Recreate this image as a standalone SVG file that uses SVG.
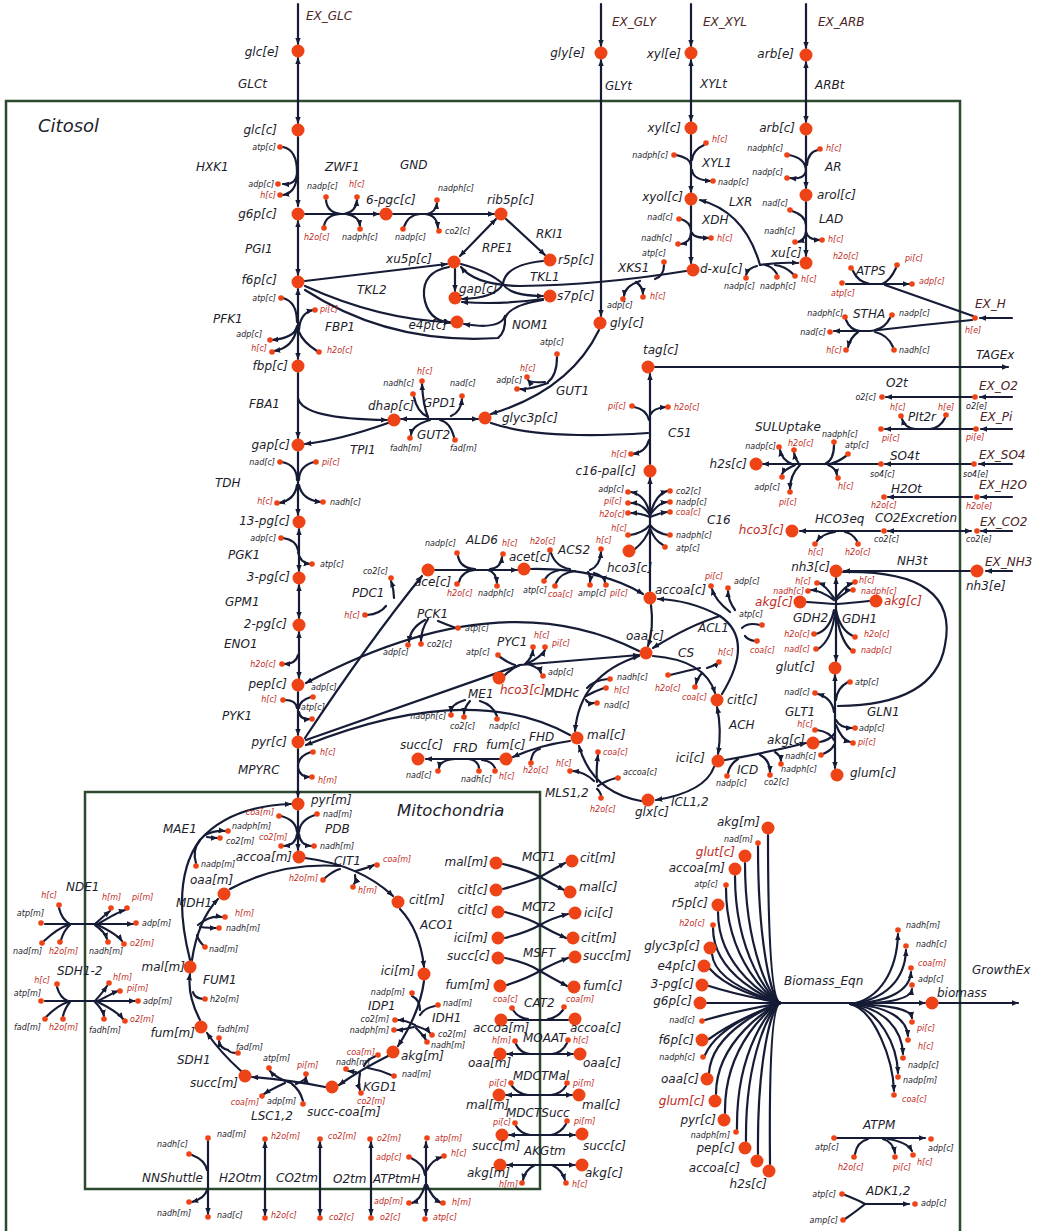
<svg xmlns="http://www.w3.org/2000/svg" width="1043" height="1231" viewBox="0 0 1043 1231">
<defs>
<marker id="ar" viewBox="0 0 10 10" refX="9" refY="5" markerWidth="7" markerHeight="7" orient="auto-start-reverse" markerUnits="userSpaceOnUse"><path d="M0,1 L10,5 L0,9 z" fill="#161c36"/></marker>
<style>
.k path{fill:none;stroke:#161c36;stroke-width:2.2;stroke-linecap:round}
.k path.a{marker-end:url(#ar)}
.k path.ab{marker-start:url(#ar);marker-end:url(#ar)}
circle.b{r:6.5px;fill:#ee4316}
circle.d{r:2.8px;fill:#ee4316}
text{font-family:"DejaVu Sans",Verdana,sans-serif;font-style:italic}
.n{font-size:12px;fill:#1d1d2b}
.nr{font-size:12px;fill:#c02a1c}
.s{font-size:8px;fill:#1d1d2b}
.sr{font-size:8px;fill:#c02a1c}
.x{font-size:12px;fill:#4b2424}
.e{text-anchor:end}
.box{fill:none;stroke:#2e4a2e;stroke-width:2.5}
</style>
</defs>
<rect width="1043" height="1231" fill="#ffffff"/>
<g id="compartments">
<rect class="box" x="6" y="101" width="954" height="1150"/>
<rect class="box" x="85" y="792" width="455" height="397"/>
<text x="38" y="132" style="font-size:18px;fill:#1d1d2b">Citosol</text>
<text x="397" y="816" style="font-size:16.5px;fill:#1d1d2b">Mitochondria</text>
</g>
<g id="connectors" class="k">
<path class="a" d="M298,4V44"/><path class="ab" d="M298,58V123"/><path class="a" d="M298,137V206"/><path class="ab" d="M298,221V275"/><path class="ab" d="M298,289V359"/><path class="a" d="M298,373V438"/><path class="a" d="M298,452V515"/><path class="ab" d="M299,529V571"/><path class="ab" d="M299,585V618"/><path class="ab" d="M299,632V678"/><path class="a" d="M298,692V735"/><path class="a" d="M298,749V797"/><path class="a" d="M298,811V850"/>
<path d="M283,147Q297,150 297,172"/><path class="a" d="M297,172Q297,185 283,184"/><path class="a" d="M297,175Q296,193 283,195"/>
<path class="a" d="M305,214H379"/><path d="M326,200Q327,213 342,214"/><path d="M324,226Q326,215 340,214"/><path class="a" d="M344,214Q356,212 357,200"/><path class="a" d="M346,214Q359,216 360,226"/>
<path class="a" d="M393,214H494"/><path d="M404,227Q408,215 420,214"/><path class="a" d="M425,214Q437,215 438,228"/><path class="a" d="M427,214Q436,212 437,203"/>
<path class="ab" d="M496,219L460,256"/><path class="a" d="M506,219L545,255"/>
<path class="a" d="M305,281L447,264"/><path class="a" d="M305,286Q380,320 450,322"/>
<path class="a" d="M455,269V291"/>
<path d="M461,264Q490,272 503,284"/><path d="M543,261Q505,265 503,284"/><path class="a" d="M503,284Q495,298 462,299"/><path class="a" d="M503,284Q510,296 543,296"/>
<path class="a" d="M686,271Q600,285 520,286Q475,285 461,267"/>
<path d="M664,265Q664,276 655,279"/><path class="a" d="M640,281Q625,286 624,296"/><path class="a" d="M636,282Q643,287 643,294"/>
<path class="a" d="M543,299Q500,305 462,302"/><path class="a" d="M449,267Q422,272 424,296Q427,320 450,323"/>
<path d="M543,300Q510,305 505,318"/><path class="a" d="M505,316Q500,330 464,324"/><path d="M305,290Q390,345 498,338Q506,332 505,316"/>
<path d="M283,298Q297,302 297,322"/><path class="a" d="M297,326Q295,338 272,340"/><path class="a" d="M297,328Q293,348 274,351"/><path class="a" d="M299,330Q300,313 313,310"/><path d="M317,351Q303,342 299,332"/>
<path class="a" d="M298,398Q302,419 387,420"/><path class="a" d="M388,423Q340,440 305,444"/>
<path d="M282,462Q297,465 297,480"/><path d="M314,462Q299,466 299,480"/><path class="a" d="M297,485Q295,500 279,503"/><path class="a" d="M299,485Q302,500 321,502"/>
<path d="M283,538Q296,540 298,550"/><path class="a" d="M298,552Q300,563 310,564"/>
<path class="a" d="M298,655Q296,664 284,664"/>
<path d="M285,700Q296,700 297,708"/><path d="M311,697Q300,700 299,708"/><path class="a" d="M299,712Q300,720 310,719"/>
<path d="M311,752Q298,756 298,766"/><path class="a" d="M298,768Q300,777 310,777"/>
<path class="ab" d="M401,419H478"/><path d="M414,397Q417,412 428,417"/><path class="a" d="M428,417Q423,405 422,384"/><path class="a" d="M451,416Q461,412 462,399"/><path d="M454,437Q450,422 440,420"/><path class="a" d="M430,420Q412,425 411,435"/>
<path class="a" d="M599,330Q570,390 491,414"/><path d="M557,357Q557,375 548,382"/><path class="a" d="M548,383Q528,390 520,389"/><path class="a" d="M545,382Q530,383 528,380"/>
<path class="a" d="M601,4V46"/><path class="ab" d="M601,60V316"/>
<path d="M491,423Q540,440 648,433"/><path class="a" d="M650,464V374"/><path d="M634,407Q646,409 649,420"/><path class="a" d="M650,415Q653,408 666,407"/><path class="a" d="M649,440Q646,452 633,454"/>
<path class="a" d="M655,367H1008"/>
<path class="a" d="M650,591V478"/>
<path class="a" d="M650,515Q646,495 631,492"/><path class="a" d="M650,515Q642,503 631,503"/><path class="a" d="M650,517Q640,513 631,513"/><path class="a" d="M650,515Q655,495 667,491"/><path class="a" d="M650,515Q658,503 667,502"/><path class="a" d="M650,517Q660,513 667,512"/>
<path d="M630,535Q643,533 650,525"/><path d="M635,549Q646,540 650,528"/><path d="M668,535Q656,533 650,525"/><path d="M663,545Q654,540 650,528"/>
<path class="a" d="M435,570H517"/><path d="M458,556Q460,568 475,569"/><path d="M459,582Q462,571 475,570"/><path class="a" d="M490,569Q501,568 502,557"/><path class="a" d="M488,570Q496,572 497,583"/>
<path class="a" d="M531,569Q600,568 643,594"/><path d="M551,553Q556,567 570,569"/><path d="M545,579Q549,572 560,570"/><path d="M556,583Q560,573 575,571"/><path class="a" d="M590,570Q600,566 601,552"/><path class="a" d="M588,572Q591,576 590,582"/><path class="a" d="M594,573Q604,576 605,582"/>
<path class="a" d="M305,738Q370,640 422,576"/><path class="a" d="M394,598Q394,590 391,581"/><path d="M367,615Q380,614 386,606"/>
<path class="a" d="M639,651Q500,580 306,683"/><path d="M456,628Q445,624 438,621"/><path class="a" d="M425,620Q410,628 409,642"/><path class="a" d="M428,619Q421,630 421,641"/>
<path class="a" d="M306,740L520,665L639,655"/><path d="M500,657Q510,664 515,665"/><path d="M505,675Q512,668 520,665"/><path class="a" d="M525,664Q532,658 533,650"/><path class="a" d="M527,664Q542,656 545,650"/><path class="a" d="M528,664Q540,668 541,673"/>
<path class="a" d="M570,735Q470,680 306,745"/><path d="M497,716Q493,705 480,701"/><path class="a" d="M465,700Q451,704 451,712"/><path class="a" d="M470,701Q464,708 464,714"/>
<path class="ab" d="M575,731Q580,675 639,656"/><path d="M608,679Q594,680 587,688"/><path d="M604,688Q595,691 586,696"/><path class="a" d="M586,700Q588,704 594,703"/>
<path class="a" d="M570,741Q540,745 513,757"/><path d="M531,760Q533,750 540,749"/>
<path class="a" d="M499,759H426"/><path d="M479,768Q478,760 468,759"/><path d="M495,768Q492,761 482,760"/><path class="a" d="M455,759Q440,760 439,768"/>
<path class="a" d="M641,801Q592,792 579,746"/><path d="M616,778Q605,781 598,786"/><path d="M601,795Q599,790 597,789"/><path class="a" d="M597,782Q596,770 598,755"/><path class="a" d="M594,781Q585,772 573,771"/>
<path class="a" d="M714,767Q705,792 656,800"/>
<path class="a" d="M653,656Q705,660 715,693"/><path d="M670,675Q690,670 700,668"/><path class="a" d="M707,668Q716,665 719,662"/><path class="a" d="M702,673Q697,679 696,684"/>
<path class="a" d="M722,694Q755,640 720,616Q690,600 658,599"/><path class="a" d="M720,616Q690,625 653,648"/><path d="M760,625Q748,622 742,628"/><path d="M755,641Q748,640 745,636"/><path class="a" d="M735,610Q728,600 728,591"/><path class="a" d="M730,612Q715,600 712,589"/>
<path class="a" d="M651,605Q654,628 648,646"/>
<path class="ab" d="M717,707Q722,730 718,754"/>
<path class="a" d="M725,760Q770,752 806,743"/><path d="M728,773Q730,764 738,759"/><path class="a" d="M760,755Q770,760 770,772"/><path class="a" d="M775,752Q781,756 781,761"/>
<path class="ab" d="M835,675V768"/>
<path class="a" d="M834,712Q832,698 818,694"/><path d="M817,730Q830,732 834,740"/><path d="M820,742Q830,740 835,733"/><path d="M823,754Q832,750 834,745"/>
<path d="M848,682Q837,688 836,700"/><path class="a" d="M836,720Q840,728 852,728"/><path class="a" d="M836,725Q842,740 850,742"/>
<path d="M843,572Q960,570 945,645Q935,705 838,706"/>
<path class="ab" d="M836,578V661"/>
<path class="a" d="M834,598Q825,585 819,583"/><path class="a" d="M834,600Q820,590 811,590"/><path d="M807,602Q822,603 834,604"/><path d="M834,610Q830,630 816,634"/><path d="M835,612Q832,640 818,649"/>
<path class="a" d="M836,598Q846,585 853,583"/><path class="a" d="M836,600Q848,590 851,590"/><path d="M869,601Q850,603 837,604"/><path d="M836,610Q840,630 853,636"/><path d="M836,612Q840,640 851,650"/>
<path class="a" d="M970,571H844"/><path class="a" d="M1012,571H986"/>
<path class="a" d="M972,397H886"/><path class="a" d="M1012,397H980"/>
<path class="a" d="M973,429H885"/><path d="M945,418Q940,428 930,429"/><path class="a" d="M915,429Q905,428 902,419"/><path class="a" d="M1012,429H981"/>
<path class="a" d="M971,464H885"/><path class="a" d="M1012,464H979"/>
<path class="a" d="M878,464H763"/><path d="M834,445Q834,460 825,464"/><path d="M846,456Q838,462 830,464"/><path class="a" d="M828,465Q836,468 837,475"/><path class="a" d="M792,464Q782,460 780,450"/><path class="a" d="M799,464Q795,458 794,453"/><path class="a" d="M795,465Q784,470 782,474"/><path class="a" d="M800,465Q790,475 790,489"/>
<path class="a" d="M972,497H888"/><path class="a" d="M1012,497H981"/>
<path class="ab" d="M888,531H971"/><path class="a" d="M1012,531H981"/>
<path class="a" d="M880,531H800"/><path class="a" d="M835,532Q822,534 817,541"/><path d="M857,541Q852,533 845,532"/>
<path d="M973,316L885,285"/><path class="a" d="M846,284H909"/><path d="M853,271Q858,282 870,284"/><path d="M896,268Q890,281 882,284"/>
<path class="a" d="M972,320Q920,325 870,331H834"/><path d="M846,320Q850,330 860,331"/><path d="M890,318Q885,328 875,330"/><path class="a" d="M858,332Q850,338 848,347"/><path d="M893,347Q888,335 875,332"/>
<path class="a" d="M1012,318H980"/>
<path class="a" d="M691,4V46"/><path class="ab" d="M691,60V121"/><path class="a" d="M806,4V48"/><path class="ab" d="M806,62V122"/>
<path class="a" d="M691,135V192"/><path d="M704,145Q693,150 692,160"/><path d="M676,155Q690,158 691,165"/><path class="a" d="M692,170Q693,180 711,181"/>
<path class="a" d="M691,206V263"/><path d="M681,219Q690,222 691,230"/><path class="a" d="M691,233Q690,243 681,244"/><path class="a" d="M692,233Q694,238 709,238"/>
<path class="a" d="M760,265Q745,212 700,200"/><path class="a" d="M760,265Q780,262 798,263"/><path class="a" d="M757,266Q748,268 746,275"/><path d="M777,274Q772,266 765,265"/><path d="M793,274Q785,266 775,265"/>
<path class="a" d="M806,136V188"/><path d="M818,150Q808,152 807,165"/><path d="M789,155Q805,158 806,170"/><path class="a" d="M806,170Q805,180 790,178"/>
<path class="a" d="M806,202V256"/><path d="M792,211Q805,215 806,225"/><path class="a" d="M806,232Q805,240 798,242"/><path class="a" d="M806,232Q808,240 820,240"/>
<path d="M281,816Q296,820 297,832"/><path d="M315,815Q300,820 299,832"/><path class="a" d="M297,834Q296,845 284,846"/><path class="a" d="M299,834Q300,845 311,846"/>
<path class="a" d="M190,960Q170,880 200,840Q230,806 291,804"/><path class="a" d="M205,835Q215,830 225,831"/><path class="a" d="M207,837Q213,838 217,838"/><path d="M196,863Q192,850 200,840"/>
<path class="a" d="M305,858Q360,865 393,896"/><path d="M230,889Q280,862 340,866"/><path d="M325,878Q333,871 340,869"/><path class="a" d="M356,871Q370,867 374,865"/><path class="a" d="M355,875Q356,882 354,884"/>
<path class="a" d="M400,909Q420,930 424,967"/>
<path class="a" d="M424,981Q420,1012 398,1046"/><path d="M412,996Q420,1000 420,1010"/><path d="M435,1006Q424,1008 420,1015"/><path class="a" d="M415,1025Q405,1020 398,1020"/><path class="a" d="M414,1027Q402,1030 397,1030"/><path class="a" d="M416,1026Q428,1030 430,1033"/><path class="a" d="M416,1028Q424,1036 426,1040"/>
<path class="a" d="M388,1056Q360,1070 339,1085"/><path d="M376,1056Q366,1060 364,1066"/><path d="M391,1075Q380,1070 368,1068"/><path class="a" d="M356,1072Q348,1071 348,1071"/><path class="a" d="M360,1073Q358,1085 360,1090"/>
<path class="a" d="M325,1087Q290,1080 252,1077"/><path class="a" d="M291,1083Q276,1078 270,1071"/><path class="a" d="M296,1084Q306,1080 306,1077"/><path class="a" d="M285,1083Q270,1090 264,1094"/><path d="M303,1101Q300,1090 292,1084"/>
<path class="a" d="M241,1071Q220,1052 207,1033"/><path class="a" d="M228,1050Q220,1048 219,1041"/><path d="M236,1053Q230,1053 228,1050"/>
<path class="a" d="M200,1020Q187,995 190,974"/><path d="M203,999Q194,998 193,992"/>
<path class="a" d="M192,960Q198,920 218,899"/><path class="a" d="M198,925Q210,915 222,917"/><path class="a" d="M200,927Q210,928 216,928"/><path d="M203,945Q198,940 197,935"/>
<path class="a" d="M45,924H133"/><path d="M59,908Q62,920 70,924"/><path d="M44,941Q58,928 68,925"/><path d="M61,940Q64,930 70,925"/><path class="a" d="M95,924Q105,915 110,911"/><path class="a" d="M98,924Q118,912 125,910"/><path class="a" d="M95,925Q105,932 107,939"/><path class="a" d="M98,925Q118,935 122,941"/>
<path class="a" d="M45,1001H135"/><path d="M57,987Q60,998 68,1001"/><path d="M46,1017Q58,1005 68,1002"/><path d="M63,1016Q65,1008 70,1002"/><path class="a" d="M95,1001Q103,992 107,986"/><path class="a" d="M98,1001Q115,992 118,991"/><path class="a" d="M95,1002Q103,1010 104,1016"/><path class="a" d="M98,1002Q118,1012 123,1019"/>
<path class="a" d="M208,1141V1214"/><path d="M192,1155Q205,1160 207,1170"/><path class="a" d="M207,1190Q205,1198 192,1202"/>
<path class="ab" d="M265,1142V1215"/><path class="ab" d="M320,1142V1215"/><path class="ab" d="M371,1142V1215"/><path class="ab" d="M426,1142V1215"/>
<path d="M411,1158Q424,1164 425,1175"/><path class="a" d="M427,1170Q432,1160 442,1157"/><path class="a" d="M425,1185Q421,1200 412,1203"/><path class="a" d="M427,1185Q432,1198 441,1203"/>
<path d="M503,864Q528,870 540,877"/><path d="M503,889Q528,882 540,877"/><path class="a" d="M540,877Q552,870 565,863"/><path class="a" d="M540,877Q552,884 564,890"/>
<path d="M505,912Q528,918 540,925"/><path d="M505,938Q528,932 540,925"/><path class="a" d="M540,925Q552,918 568,914"/><path class="a" d="M540,925Q552,932 566,938"/>
<path d="M505,958Q528,963 540,971"/><path d="M507,985Q528,978 540,971"/><path class="a" d="M540,971Q552,964 568,958"/><path class="a" d="M540,971Q552,978 567,986"/>
<path d="M508,1020H568"/><path d="M513,1010Q518,1018 528,1019"/><path d="M563,1010Q557,1018 548,1019"/>
<path class="ab" d="M507,1054H573"/><path d="M516,1044Q520,1053 530,1054"/><path d="M567,1043Q562,1053 552,1054"/>
<path class="ab" d="M506,1095H572"/><path d="M512,1086Q518,1094 528,1095"/><path d="M566,1086Q561,1094 551,1095"/>
<path class="ab" d="M509,1135H575"/><path d="M516,1126Q520,1133 530,1135"/><path d="M566,1124Q561,1133 551,1135"/>
<path class="ab" d="M507,1165H575"/><path class="a" d="M535,1165Q525,1170 523,1180"/><path class="a" d="M552,1165Q562,1170 565,1180"/>
<path d="M768,835C768,942 772,1000 780,1003"/><path d="M758,846C758,947 772,1000 780,1003"/><path d="M745,863C745,951 772,1000 780,1003"/><path d="M735,876C735,956 772,1000 780,1003"/><path d="M726,888C726,962 772,1000 780,1003"/><path d="M718,912C718,969 772,1000 780,1003"/><path d="M713,928C713,976 772,1000 780,1003"/><path d="M712,954C715,985 772,1000 780,1003"/><path d="M710,969C730,992 772,1000 780,1003"/><path d="M709,986C740,996 772,1001 780,1003"/><path d="M707,1003H780"/>
<path d="M705,1020C740,1010 772,1005 780,1003"/><path d="M709,1039C735,1020 772,1006 780,1003"/><path d="M705,1055C718,1025 772,1006 780,1003"/><path d="M709,1073C712,1030 772,1006 780,1003"/><path d="M716,1094C716,1040 772,1006 780,1003"/><path d="M725,1113C724,1044 772,1006 780,1003"/><path d="M737,1129C736,1048 772,1006 780,1003"/><path d="M746,1141C745,1054 772,1006 780,1003"/><path d="M758,1154C757,1058 772,1006 780,1003"/><path d="M770,1164C769,1062 772,1006 780,1003"/>
<path class="a" d="M780,1003H925"/>
<path class="a" d="M850,1004C880,1000 897,970 898,934"/><path class="a" d="M850,1004C885,1000 905,980 906,950"/><path class="a" d="M850,1004C890,1002 910,990 911,972"/><path class="a" d="M850,1004C895,1003 911,998 912,989"/><path class="a" d="M850,1004C895,1005 911,1010 912,1018"/><path class="a" d="M850,1004C890,1006 907,1020 908,1036"/><path class="a" d="M850,1004C885,1008 902,1030 903,1054"/><path class="a" d="M850,1004C880,1010 897,1045 898,1073"/><path class="a" d="M850,1004C875,1010 893,1060 894,1091"/>
<path class="a" d="M939,1003H1018"/>
<path class="a" d="M837,1138H925"/><path d="M855,1154Q857,1142 868,1139"/><path class="a" d="M883,1139Q893,1142 895,1153"/><path class="a" d="M888,1139Q907,1142 912,1151"/>
<path d="M845,1195Q858,1200 865,1204"/><path d="M845,1219Q858,1210 865,1204"/><path class="a" d="M865,1204H909"/>
</g>
<g id="reaction-labels">
<text class="x" x="306" y="20">EX_GLC</text><text class="x" x="612" y="26">EX_GLY</text><text class="x" x="703" y="26">EX_XYL</text><text class="x" x="818" y="26">EX_ARB</text><text class="x" x="975" y="308">EX_H</text><text class="x" x="979" y="390">EX_O2</text><text class="x" x="980" y="421">EX_Pi</text><text class="x" x="979" y="459">EX_SO4</text><text class="x" x="979" y="489">EX_H2O</text><text class="x" x="980" y="526">EX_CO2</text><text class="x" x="985" y="566">EX_NH3</text>
<text class="n" x="238" y="88">GLCt</text><text class="n" x="196" y="171">HXK1</text><text class="n" x="325" y="171">ZWF1</text><text class="n" x="400" y="169">GND</text><text class="n" x="536" y="238">RKI1</text><text class="n" x="482" y="252">RPE1</text><text class="n" x="530" y="281">TKL1</text><text class="n" x="357" y="294">TKL2</text><text class="n" x="245" y="253">PGI1</text><text class="n" x="618" y="272">XKS1</text><text class="n" x="605" y="90">GLYt</text><text class="n" x="700" y="88">XYLt</text><text class="n" x="815" y="89">ARBt</text><text class="n" x="702" y="167">XYL1</text><text class="n" x="825" y="171">AR</text><text class="n" x="729" y="206">LXR</text><text class="n" x="702" y="224">XDH</text><text class="n" x="819" y="223">LAD</text><text class="n" x="856" y="275">ATPS</text><text class="n" x="853" y="318">STHA</text><text class="n" x="976" y="359">TAGEx</text><text class="n" x="886" y="387">O2t</text><text class="n" x="908" y="421">PIt2r</text><text class="n" x="755" y="431">SULUptake</text><text class="n" x="890" y="460">SO4t</text><text class="n" x="891" y="493">H2Ot</text><text class="n" x="815" y="523">HCO3eq</text><text class="n" x="875" y="522">CO2Excretion</text><text class="n" x="897" y="565">NH3t</text><text class="n" x="793" y="622">GDH2</text><text class="n" x="842" y="623">GDH1</text><text class="n" x="785" y="716">GLT1</text><text class="n" x="867" y="716">GLN1</text><text class="n" x="737" y="774">ICD</text><text class="n" x="698" y="632">ACL1</text><text class="n" x="678" y="657">CS</text><text class="n" x="729" y="729">ACH</text><text class="n" x="671" y="806">ICL1,2</text><text class="n" x="668" y="437">C51</text><text class="n" x="707" y="524">C16</text><text class="n" x="423" y="407">GPD1</text><text class="n" x="417" y="439">GUT2</text><text class="n" x="556" y="395">GUT1</text><text class="n" x="512" y="329">NOM1</text><text class="n" x="350" y="454">TPI1</text><text class="n" x="325" y="331">FBP1</text><text class="n" x="213" y="323">PFK1</text><text class="n" x="249" y="408">FBA1</text><text class="n" x="215" y="487">TDH</text><text class="n" x="228" y="559">PGK1</text><text class="n" x="225" y="606">GPM1</text><text class="n" x="224" y="648">ENO1</text><text class="n" x="222" y="720">PYK1</text><text class="n" x="238" y="774">MPYRC</text><text class="n" x="466" y="544">ALD6</text><text class="n" x="558" y="554">ACS2</text><text class="n" x="352" y="597">PDC1</text><text class="n" x="417" y="618">PCK1</text><text class="n" x="497" y="646">PYC1</text><text class="n" x="544" y="697">MDHc</text><text class="n" x="468" y="698">ME1</text><text class="n" x="529" y="741">FHD</text><text class="n" x="453" y="752">FRD</text><text class="n" x="545" y="797">MLS1,2</text>
<text class="n" x="163" y="833">MAE1</text><text class="n" x="325" y="833">PDB</text><text class="n" x="334" y="865">CIT1</text><text class="n" x="176" y="907">MDH1</text><text class="n" x="203" y="984">FUM1</text><text class="n" x="177" y="1064">SDH1</text><text class="n" x="251" y="1120">LSC1,2</text><text class="n" x="420" y="929">ACO1</text><text class="n" x="368" y="1010">IDP1</text><text class="n" x="432" y="1022">IDH1</text><text class="n" x="363" y="1091">KGD1</text><text class="n" x="66" y="891">NDE1</text><text class="n" x="57" y="975">SDH1-2</text><text class="n" x="142" y="1182">NNShuttle</text><text class="n" x="219" y="1182">H2Otm</text><text class="n" x="276" y="1182">CO2tm</text><text class="n" x="333" y="1183">O2tm</text><text class="n" x="373" y="1183">ATPtmH</text><text class="n" x="522" y="861">MCT1</text><text class="n" x="522" y="911">MCT2</text><text class="n" x="523" y="957">MSFT</text><text class="n" x="524" y="1007">CAT2</text><text class="n" x="523" y="1042">MOAAT</text><text class="n" x="513" y="1080">MDCTMal</text><text class="n" x="506" y="1117">MDCTSucc</text><text class="n" x="524" y="1155">AKGtm</text><text class="n" x="784" y="985">Biomass_Eqn</text><text class="n" x="972" y="974">GrowthEx</text><text class="n" x="863" y="1129">ATPM</text><text class="n" x="866" y="1195">ADK1,2</text>
</g>
<g id="metabolites">
<g id="glc_e"><circle class="b" cx="298" cy="51"/><text class="n e" x="279" y="56">glc[e]</text></g>
<g id="glc_c"><circle class="b" cx="298" cy="130"/><text class="n e" x="277" y="134">glc[c]</text></g>
<g id="g6p_c"><circle class="b" cx="298" cy="214"/><text class="n e" x="277" y="218">g6p[c]</text></g>
<g id="pgc6_c"><circle class="b" cx="386" cy="214"/><text class="n" x="366" y="204">6-pgc[c]</text></g>
<g id="rib5p_c"><circle class="b" cx="501" cy="214"/><text class="n" x="487" y="204">rib5p[c]</text></g>
<g id="xu5p_c"><circle class="b" cx="454" cy="262"/><text class="n e" x="432" y="263">xu5p[c]</text></g>
<g id="r5p_c"><circle class="b" cx="550" cy="260"/><text class="n" x="558" y="264">r5p[c]</text></g>
<g id="gap_c_ppp"><circle class="b" cx="455" cy="298"/><text class="n" x="459" y="293">gap[c]</text></g>
<g id="s7p_c"><circle class="b" cx="550" cy="296"/><text class="n" x="557" y="300">s7p[c]</text></g>
<g id="e4p_c"><circle class="b" cx="457" cy="322"/><text class="n e" x="447" y="329">e4p[c]</text></g>
<g id="f6p_c"><circle class="b" cx="298" cy="282"/><text class="n e" x="277" y="284">f6p[c]</text></g>
<g id="fbp_c"><circle class="b" cx="298" cy="366"/><text class="n e" x="288" y="370">fbp[c]</text></g>
<g id="gap_c"><circle class="b" cx="298" cy="445"/><text class="n e" x="290" y="449">gap[c]</text></g>
<g id="pg13_c"><circle class="b" cx="299" cy="522"/><text class="n e" x="290" y="525">13-pg[c]</text></g>
<g id="pg3_c"><circle class="b" cx="299" cy="578"/><text class="n e" x="290" y="581">3-pg[c]</text></g>
<g id="pg2_c"><circle class="b" cx="299" cy="625"/><text class="n e" x="287" y="628">2-pg[c]</text></g>
<g id="pep_c"><circle class="b" cx="298" cy="685"/><text class="n e" x="287" y="688">pep[c]</text></g>
<g id="pyr_c"><circle class="b" cx="298" cy="742"/><text class="n e" x="287" y="746">pyr[c]</text></g>
<g id="pyr_m"><circle class="b" cx="298" cy="804"/><text class="n" x="311" y="804">pyr[m]</text></g>
<g id="accoa_m"><circle class="b" cx="299" cy="857"/><text class="n e" x="292" y="861">accoa[m]</text></g>
<g id="gly_e"><circle class="b" cx="601" cy="53"/><text class="n e" x="585" y="57">gly[e]</text></g>
<g id="gly_c"><circle class="b" cx="600" cy="323"/><text class="n" x="610" y="327">gly[c]</text></g>
<g id="xyl_e"><circle class="b" cx="691" cy="53"/><text class="n e" x="681" y="58">xyl[e]</text></g>
<g id="arb_e"><circle class="b" cx="806" cy="55"/><text class="n e" x="794" y="58">arb[e]</text></g>
<g id="xyl_c"><circle class="b" cx="691" cy="128"/><text class="n e" x="681" y="132">xyl[c]</text></g>
<g id="arb_c"><circle class="b" cx="806" cy="129"/><text class="n e" x="795" y="132">arb[c]</text></g>
<g id="arol_c"><circle class="b" cx="806" cy="195"/><text class="n" x="817" y="199">arol[c]</text></g>
<g id="xyol_c"><circle class="b" cx="691" cy="199"/><text class="n e" x="683" y="201">xyol[c]</text></g>
<g id="xu_c"><circle class="b" cx="806" cy="263"/><text class="n" x="771" y="257">xu[c]</text></g>
<g id="dxu_c"><circle class="b" cx="693" cy="270"/><text class="n" x="700" y="273">d-xu[c]</text></g>
<g id="tag_c"><circle class="b" cx="648" cy="367"/><text class="n" x="643" y="354">tag[c]</text></g>
<g id="dhap_c"><circle class="b" cx="394" cy="420"/><text class="n" x="368" y="410">dhap[c]</text></g>
<g id="glyc3p_c"><circle class="b" cx="485" cy="418"/><text class="n" x="502" y="422">glyc3p[c]</text></g>
<g id="c16pal_c"><circle class="b" cx="650" cy="471"/><text class="n e" x="636" y="475">c16-pal[c]</text></g>
<g id="hco3_c16"><circle class="b" cx="629" cy="551"/><text class="n" x="607" y="572">hco3[c]</text></g>
<g id="ace_c"><circle class="b" cx="428" cy="570"/><text class="n" x="414" y="586">ace[c]</text></g>
<g id="acet_c"><circle class="b" cx="524" cy="569"/><text class="n" x="509" y="561">acet[c]</text></g>
<g id="accoa_c"><circle class="b" cx="650" cy="598"/><text class="n" x="655" y="594">accoa[c]</text></g>
<g id="h2s_c"><circle class="b" cx="756" cy="464"/><text class="n e" x="747" y="468">h2s[c]</text></g>
<g id="hco3_c"><circle class="b" cx="792" cy="531"/><text class="nr e" x="784" y="534">hco3[c]</text></g>
<g id="nh3_c"><circle class="b" cx="836" cy="571"/><text class="n e" x="830" y="571">nh3[c]</text></g>
<g id="nh3_e"><circle class="b" cx="977" cy="571"/><text class="n" x="966" y="590">nh3[e]</text></g>
<g id="akg_c_gdh2"><circle class="b" cx="800" cy="602"/><text class="nr e" x="793" y="606">akg[c]</text></g>
<g id="akg_c_gdh1"><circle class="b" cx="876" cy="601"/><text class="nr" x="884" y="605">akg[c]</text></g>
<g id="glut_c"><circle class="b" cx="835" cy="668"/><text class="n e" x="815" y="671">glut[c]</text></g>
<g id="akg_c_glt"><circle class="b" cx="813" cy="743"/><text class="n e" x="805" y="744">akg[c]</text></g>
<g id="glum_c"><circle class="b" cx="837" cy="775"/><text class="n" x="850" y="777">glum[c]</text></g>
<g id="oaa_c"><circle class="b" cx="646" cy="653"/><text class="n" x="626" y="640">oaa[c]</text></g>
<g id="hco3_pyc"><circle class="b" cx="499" cy="678"/><text class="nr" x="500" y="694">hco3[c]</text></g>
<g id="mal_c"><circle class="b" cx="577" cy="738"/><text class="n" x="587" y="739">mal[c]</text></g>
<g id="fum_c"><circle class="b" cx="506" cy="759"/><text class="n" x="486" y="749">fum[c]</text></g>
<g id="succ_c"><circle class="b" cx="418" cy="759"/><text class="n" x="400" y="749">succ[c]</text></g>
<g id="glx_c"><circle class="b" cx="648" cy="800"/><text class="n" x="635" y="816">glx[c]</text></g>
<g id="cit_c"><circle class="b" cx="717" cy="700"/><text class="n" x="727" y="704">cit[c]</text></g>
<g id="ici_c"><circle class="b" cx="718" cy="761"/><text class="n e" x="705" y="762">ici[c]</text></g>
<g id="cit_m"><circle class="b" cx="398" cy="902"/><text class="n" x="409" y="904">cit[m]</text></g>
<g id="oaa_m"><circle class="b" cx="224" cy="894"/><text class="n" x="190" y="884">oaa[m]</text></g>
<g id="mal_m"><circle class="b" cx="190" cy="967"/><text class="n e" x="185" y="971">mal[m]</text></g>
<g id="ici_m"><circle class="b" cx="424" cy="974"/><text class="n e" x="415" y="975">ici[m]</text></g>
<g id="fum_m"><circle class="b" cx="201" cy="1027"/><text class="n e" x="195" y="1037">fum[m]</text></g>
<g id="akg_m"><circle class="b" cx="393" cy="1052"/><text class="n" x="401" y="1060">akg[m]</text></g>
<g id="succ_m"><circle class="b" cx="245" cy="1076"/><text class="n e" x="238" y="1087">succ[m]</text></g>
<g id="succcoa_m"><circle class="b" cx="332" cy="1087"/><text class="n" x="307" y="1116">succ-coa[m]</text></g>
<g id="t_mal_m"><circle class="b" cx="496" cy="863"/><text class="n e" x="488" y="866">mal[m]</text></g>
<g id="t_cit_m"><circle class="b" cx="572" cy="861"/><text class="n" x="580" y="862">cit[m]</text></g>
<g id="t_cit_c"><circle class="b" cx="496" cy="890"/><text class="n e" x="488" y="894">cit[c]</text></g>
<g id="t_mal_c"><circle class="b" cx="570" cy="892"/><text class="n" x="579" y="891">mal[c]</text></g>
<g id="t_cit_c2"><circle class="b" cx="498" cy="912"/><text class="n e" x="488" y="914">cit[c]</text></g>
<g id="t_ici_c"><circle class="b" cx="575" cy="913"/><text class="n" x="584" y="917">ici[c]</text></g>
<g id="t_ici_m"><circle class="b" cx="498" cy="938"/><text class="n e" x="488" y="942">ici[m]</text></g>
<g id="t_cit_m2"><circle class="b" cx="573" cy="938"/><text class="n" x="581" y="942">cit[m]</text></g>
<g id="t_succ_c"><circle class="b" cx="498" cy="958"/><text class="n e" x="490" y="960">succ[c]</text></g>
<g id="t_succ_m"><circle class="b" cx="575" cy="957"/><text class="n" x="583" y="960">succ[m]</text></g>
<g id="t_fum_m"><circle class="b" cx="500" cy="986"/><text class="n e" x="490" y="989">fum[m]</text></g>
<g id="t_fum_c"><circle class="b" cx="574" cy="987"/><text class="n" x="583" y="990">fum[c]</text></g>
<g id="t_accoa_m"><circle class="b" cx="501" cy="1020"/><text class="n" x="473" y="1032">accoa[m]</text></g>
<g id="t_accoa_c"><circle class="b" cx="575" cy="1019"/><text class="n" x="570" y="1032">accoa[c]</text></g>
<g id="t_oaa_m"><circle class="b" cx="500" cy="1054"/><text class="n" x="468" y="1067">oaa[m]</text></g>
<g id="t_oaa_c"><circle class="b" cx="580" cy="1054"/><text class="n" x="583" y="1067">oaa[c]</text></g>
<g id="t_mal_m2"><circle class="b" cx="499" cy="1095"/><text class="n" x="466" y="1109">mal[m]</text></g>
<g id="t_mal_c2"><circle class="b" cx="579" cy="1095"/><text class="n" x="582" y="1109">mal[c]</text></g>
<g id="t_succ_m2"><circle class="b" cx="502" cy="1135"/><text class="n" x="472" y="1150">succ[m]</text></g>
<g id="t_succ_c2"><circle class="b" cx="582" cy="1134"/><text class="n" x="583" y="1150">succ[c]</text></g>
<g id="t_akg_m"><circle class="b" cx="500" cy="1165"/><text class="n" x="467" y="1177">akg[m]</text></g>
<g id="t_akg_c"><circle class="b" cx="582" cy="1165"/><text class="n" x="585" y="1177">akg[c]</text></g>
<g id="bm_akg_m"><circle class="b" cx="768" cy="828"/><text class="n e" x="760" y="826">akg[m]</text></g>
<g id="bm_glut_c"><circle class="b" cx="745" cy="856"/><text class="nr e" x="735" y="856">glut[c]</text></g>
<g id="bm_accoa_m"><circle class="b" cx="735" cy="869"/><text class="n e" x="725" y="872">accoa[m]</text></g>
<g id="bm_r5p_c"><circle class="b" cx="718" cy="905"/><text class="n e" x="708" y="907">r5p[c]</text></g>
<g id="bm_glyc3p_c"><circle class="b" cx="710" cy="948"/><text class="n e" x="700" y="950">glyc3p[c]</text></g>
<g id="bm_e4p_c"><circle class="b" cx="704" cy="966"/><text class="n e" x="696" y="970">e4p[c]</text></g>
<g id="bm_pg3_c"><circle class="b" cx="702" cy="985"/><text class="n e" x="694" y="988">3-pg[c]</text></g>
<g id="bm_g6p_c"><circle class="b" cx="700" cy="1003"/><text class="n e" x="692" y="1005">g6p[c]</text></g>
<g id="bm_f6p_c"><circle class="b" cx="702" cy="1040"/><text class="n e" x="694" y="1044">f6p[c]</text></g>
<g id="bm_oaa_c"><circle class="b" cx="707" cy="1079"/><text class="n e" x="699" y="1083">oaa[c]</text></g>
<g id="bm_glum_c"><circle class="b" cx="715" cy="1101"/><text class="nr e" x="705" y="1105">glum[c]</text></g>
<g id="bm_pyr_c"><circle class="b" cx="724" cy="1120"/><text class="n e" x="716" y="1124">pyr[c]</text></g>
<g id="bm_pep_c"><circle class="b" cx="745" cy="1148"/><text class="n e" x="735" y="1152">pep[c]</text></g>
<g id="bm_accoa_c"><circle class="b" cx="757" cy="1161"/><text class="n e" x="740" y="1172">accoa[c]</text></g>
<g id="bm_h2s_c"><circle class="b" cx="769" cy="1171"/><text class="n e" x="767" y="1188">h2s[c]</text></g>
<g id="biomass"><circle class="b" cx="932" cy="1003"/><text class="n" x="937" y="997">biomass</text></g>
</g>
<g id="cofactors">
<g id="c1"><circle class="d" cx="280" cy="147"/><text class="s e" x="276" y="150">atp[c]</text></g>
<g id="c2"><circle class="d" cx="278" cy="184"/><text class="s e" x="274" y="187">adp[c]</text></g>
<g id="c3"><circle class="d" cx="280" cy="195"/><text class="sr e" x="276" y="198">h[c]</text></g>
<g id="c4"><circle class="d" cx="326" cy="197"/><text class="s" x="307" y="189">nadp[c]</text></g>
<g id="c5"><circle class="d" cx="357" cy="197"/><text class="sr" x="349" y="187">h[c]</text></g>
<g id="c6"><circle class="d" cx="324" cy="228"/><text class="sr" x="304" y="240">h2o[c]</text></g>
<g id="c7"><circle class="d" cx="360" cy="229"/><text class="s" x="342" y="240">nadph[c]</text></g>
<g id="c8"><circle class="d" cx="437" cy="200"/><text class="s" x="438" y="191">nadph[c]</text></g>
<g id="c9"><circle class="d" cx="403" cy="229"/><text class="s" x="395" y="240">nadp[c]</text></g>
<g id="c10"><circle class="d" cx="439" cy="231"/><text class="s" x="445" y="234">co2[c]</text></g>
<g id="c11"><circle class="d" cx="281" cy="298"/><text class="s e" x="276" y="301">atp[c]</text></g>
<g id="c12"><circle class="d" cx="315" cy="310"/><text class="sr" x="320" y="312">pi[c]</text></g>
<g id="c13"><circle class="d" cx="270" cy="340"/><text class="s e" x="262" y="337">adp[c]</text></g>
<g id="c14"><circle class="d" cx="272" cy="352"/><text class="sr e" x="267" y="351">h[c]</text></g>
<g id="c15"><circle class="d" cx="319" cy="352"/><text class="sr" x="327" y="353">h2o[c]</text></g>
<g id="c16"><circle class="d" cx="280" cy="462"/><text class="s e" x="275" y="465">nad[c]</text></g>
<g id="c17"><circle class="d" cx="316" cy="462"/><text class="sr" x="322" y="465">pi[c]</text></g>
<g id="c18"><circle class="d" cx="277" cy="503"/><text class="sr e" x="273" y="504">h[c]</text></g>
<g id="c19"><circle class="d" cx="323" cy="502"/><text class="s" x="330" y="505">nadh[c]</text></g>
<g id="c20"><circle class="d" cx="281" cy="538"/><text class="s e" x="276" y="541">adp[c]</text></g>
<g id="c21"><circle class="d" cx="312" cy="564"/><text class="s" x="320" y="567">atp[c]</text></g>
<g id="c22"><circle class="d" cx="282" cy="664"/><text class="sr e" x="276" y="667">h2o[c]</text></g>
<g id="c23"><circle class="d" cx="313" cy="697"/><text class="s" x="311" y="690">adp[c]</text></g>
<g id="c24"><circle class="d" cx="283" cy="700"/><text class="sr e" x="277" y="702">h[c]</text></g>
<g id="c25"><circle class="d" cx="312" cy="719"/><text class="s" x="301" y="710">atp[c]</text></g>
<g id="c26"><circle class="d" cx="313" cy="752"/><text class="sr" x="320" y="755">h[c]</text></g>
<g id="c27"><circle class="d" cx="312" cy="777"/><text class="sr" x="318" y="783">h[m]</text></g>
<g id="c28"><circle class="d" cx="664" cy="262"/><text class="s" x="642" y="256">atp[c]</text></g>
<g id="c29"><circle class="d" cx="623" cy="299"/><text class="s" x="607" y="308">adp[c]</text></g>
<g id="c30"><circle class="d" cx="643" cy="297"/><text class="sr" x="650" y="299">h[c]</text></g>
<g id="c31"><circle class="d" cx="706" cy="143"/><text class="sr" x="712" y="142">h[c]</text></g>
<g id="c32"><circle class="d" cx="674" cy="155"/><text class="s e" x="668" y="158">nadph[c]</text></g>
<g id="c33"><circle class="d" cx="713" cy="181"/><text class="s" x="718" y="185">nadp[c]</text></g>
<g id="c34"><circle class="d" cx="820" cy="149"/><text class="sr" x="826" y="151">h[c]</text></g>
<g id="c35"><circle class="d" cx="787" cy="155"/><text class="s e" x="783" y="151">nadph[c]</text></g>
<g id="c36"><circle class="d" cx="787" cy="178"/><text class="s e" x="783" y="175">nadp[c]</text></g>
<g id="c37"><circle class="d" cx="679" cy="219"/><text class="s e" x="673" y="220">nad[c]</text></g>
<g id="c38"><circle class="d" cx="678" cy="244"/><text class="s e" x="672" y="241">nadh[c]</text></g>
<g id="c39"><circle class="d" cx="711" cy="238"/><text class="sr" x="717" y="241">h[c]</text></g>
<g id="c40"><circle class="d" cx="790" cy="210"/><text class="s e" x="788" y="206">nad[c]</text></g>
<g id="c41"><circle class="d" cx="795" cy="242"/><text class="s e" x="795" y="234">nadh[c]</text></g>
<g id="c42"><circle class="d" cx="822" cy="240"/><text class="sr" x="828" y="242">h[c]</text></g>
<g id="c43"><circle class="d" cx="746" cy="278"/><text class="s" x="724" y="289">nadp[c]</text></g>
<g id="c44"><circle class="d" cx="777" cy="277"/><text class="s" x="760" y="289">nadph[c]</text></g>
<g id="c45"><circle class="d" cx="795" cy="276"/><text class="sr" x="801" y="282">h[c]</text></g>
<g id="c46"><circle class="d" cx="851" cy="268"/><text class="sr" x="833" y="259">h2o[c]</text></g>
<g id="c47"><circle class="d" cx="897" cy="265"/><text class="sr" x="905" y="261">pi[c]</text></g>
<g id="c48"><circle class="d" cx="842" cy="283"/><text class="sr" x="831" y="296">atp[c]</text></g>
<g id="c49"><circle class="d" cx="912" cy="284"/><text class="sr" x="919" y="284">adp[c]</text></g>
<g id="c50"><circle class="d" cx="975" cy="318"/><text class="sr" x="965" y="333">h[e]</text></g>
<g id="c51"><circle class="d" cx="845" cy="317"/><text class="s e" x="843" y="316">nadph[c]</text></g>
<g id="c52"><circle class="d" cx="892" cy="315"/><text class="s" x="899" y="316">nadp[c]</text></g>
<g id="c53"><circle class="d" cx="830" cy="332"/><text class="s e" x="826" y="335">nad[c]</text></g>
<g id="c54"><circle class="d" cx="846" cy="350"/><text class="sr e" x="842" y="353">h[c]</text></g>
<g id="c55"><circle class="d" cx="894" cy="350"/><text class="s" x="899" y="353">nadh[c]</text></g>
<g id="c56"><circle class="d" cx="882" cy="397"/><text class="s e" x="876" y="400">o2[c]</text></g>
<g id="c57"><circle class="d" cx="975" cy="397"/><text class="s" x="966" y="409">o2[e]</text></g>
<g id="c58"><circle class="d" cx="901" cy="416"/><text class="sr" x="890" y="410">h[c]</text></g>
<g id="c59"><circle class="d" cx="946" cy="415"/><text class="sr" x="938" y="410">h[e]</text></g>
<g id="c60"><circle class="d" cx="881" cy="429"/><text class="sr" x="882" y="441">pi[c]</text></g>
<g id="c61"><circle class="d" cx="976" cy="429"/><text class="sr" x="966" y="440">pi[e]</text></g>
<g id="c62"><circle class="d" cx="834" cy="442"/><text class="s" x="822" y="437">nadph[c]</text></g>
<g id="c63"><circle class="d" cx="779" cy="447"/><text class="s e" x="776" y="449">nadp[c]</text></g>
<g id="c64"><circle class="d" cx="794" cy="450"/><text class="sr" x="788" y="446">h2o[c]</text></g>
<g id="c65"><circle class="d" cx="848" cy="454"/><text class="s" x="845" y="448">atp[c]</text></g>
<g id="c66"><circle class="d" cx="782" cy="477"/><text class="s e" x="780" y="490">adp[c]</text></g>
<g id="c67"><circle class="d" cx="790" cy="492"/><text class="sr" x="779" y="505">pi[c]</text></g>
<g id="c68"><circle class="d" cx="838" cy="478"/><text class="sr" x="838" y="489">h[c]</text></g>
<g id="c69"><circle class="d" cx="881" cy="464"/><text class="s" x="870" y="477">so4[c]</text></g>
<g id="c70"><circle class="d" cx="974" cy="464"/><text class="s" x="963" y="477">so4[e]</text></g>
<g id="c71"><circle class="d" cx="884" cy="497"/><text class="sr" x="871" y="508">h2o[c]</text></g>
<g id="c72"><circle class="d" cx="977" cy="497"/><text class="sr" x="966" y="509">h2o[e]</text></g>
<g id="c73"><circle class="d" cx="884" cy="531"/><text class="s" x="874" y="542">co2[c]</text></g>
<g id="c74"><circle class="d" cx="977" cy="531"/><text class="s" x="966" y="542">co2[e]</text></g>
<g id="c75"><circle class="d" cx="815" cy="544"/><text class="sr" x="808" y="555">h[c]</text></g>
<g id="c76"><circle class="d" cx="858" cy="544"/><text class="sr" x="845" y="555">h2o[c]</text></g>
<g id="c77"><circle class="d" cx="817" cy="583"/><text class="sr e" x="811" y="584">h[c]</text></g>
<g id="c78"><circle class="d" cx="808" cy="591"/><text class="sr e" x="804" y="594">nadh[c]</text></g>
<g id="c79"><circle class="d" cx="855" cy="582"/><text class="sr" x="859" y="583">h[c]</text></g>
<g id="c80"><circle class="d" cx="853" cy="590"/><text class="sr" x="861" y="594">nadph[c]</text></g>
<g id="c81"><circle class="d" cx="814" cy="634"/><text class="sr e" x="810" y="637">h2o[c]</text></g>
<g id="c82"><circle class="d" cx="816" cy="649"/><text class="sr e" x="810" y="652">nad[c]</text></g>
<g id="c83"><circle class="d" cx="855" cy="637"/><text class="sr" x="864" y="637">h2o[c]</text></g>
<g id="c84"><circle class="d" cx="853" cy="651"/><text class="sr" x="861" y="653">nadp[c]</text></g>
<g id="c85"><circle class="d" cx="850" cy="682"/><text class="s" x="855" y="685">atp[c]</text></g>
<g id="c86"><circle class="d" cx="815" cy="693"/><text class="s e" x="810" y="695">nad[c]</text></g>
<g id="c87"><circle class="d" cx="815" cy="730"/><text class="sr e" x="813" y="727">h[c]</text></g>
<g id="c88"><circle class="d" cx="855" cy="728"/><text class="s" x="859" y="731">adp[c]</text></g>
<g id="c89"><circle class="d" cx="853" cy="743"/><text class="sr" x="858" y="745">pi[c]</text></g>
<g id="c90"><circle class="d" cx="821" cy="755"/><text class="s e" x="816" y="759">nadh[c]</text></g>
<g id="c91"><circle class="d" cx="781" cy="764"/><text class="s" x="781" y="772">nadph[c]</text></g>
<g id="c92"><circle class="d" cx="727" cy="776"/><text class="s" x="716" y="786">nadp[c]</text></g>
<g id="c93"><circle class="d" cx="770" cy="775"/><text class="s" x="764" y="785">co2[c]</text></g>
<g id="c94"><circle class="d" cx="762" cy="625"/><text class="s" x="739" y="617">atp[c]</text></g>
<g id="c95"><circle class="d" cx="757" cy="641"/><text class="sr" x="750" y="653">coa[c]</text></g>
<g id="c96"><circle class="d" cx="711" cy="586"/><text class="sr" x="705" y="579">pi[c]</text></g>
<g id="c97"><circle class="d" cx="728" cy="588"/><text class="s" x="734" y="584">adp[c]</text></g>
<g id="c98"><circle class="d" cx="719" cy="662"/><text class="sr" x="718" y="655">h[c]</text></g>
<g id="c99"><circle class="d" cx="695" cy="687"/><text class="sr" x="682" y="700">coa[c]</text></g>
<g id="c100"><circle class="d" cx="668" cy="675"/><text class="sr" x="655" y="691">h2o[c]</text></g>
<g id="c101"><circle class="d" cx="632" cy="406"/><text class="sr e" x="626" y="409">pi[c]</text></g>
<g id="c102"><circle class="d" cx="668" cy="407"/><text class="sr" x="674" y="410">h2o[c]</text></g>
<g id="c103"><circle class="d" cx="631" cy="454"/><text class="sr e" x="627" y="457">h[c]</text></g>
<g id="c104"><circle class="d" cx="628" cy="492"/><text class="s e" x="624" y="492">adp[c]</text></g>
<g id="c105"><circle class="d" cx="628" cy="503"/><text class="sr e" x="622" y="504">pi[c]</text></g>
<g id="c106"><circle class="d" cx="628" cy="513"/><text class="sr e" x="625" y="517">h2o[c]</text></g>
<g id="c107"><circle class="d" cx="628" cy="535"/><text class="sr e" x="627" y="531">h[c]</text></g>
<g id="c108"><circle class="d" cx="670" cy="491"/><text class="s" x="676" y="494">co2[c]</text></g>
<g id="c109"><circle class="d" cx="670" cy="502"/><text class="s" x="676" y="505">nadp[c]</text></g>
<g id="c110"><circle class="d" cx="670" cy="512"/><text class="sr" x="676" y="515">coa[c]</text></g>
<g id="c111"><circle class="d" cx="670" cy="535"/><text class="s" x="676" y="538">nadph[c]</text></g>
<g id="c112"><circle class="d" cx="665" cy="547"/><text class="s" x="676" y="551">atp[c]</text></g>
<g id="c113"><circle class="d" cx="557" cy="354"/><text class="s" x="540" y="345">atp[c]</text></g>
<g id="c114"><circle class="d" cx="517" cy="389"/><text class="s e" x="522" y="383">adp[c]</text></g>
<g id="c115"><circle class="d" cx="527" cy="377"/><text class="sr" x="520" y="371">h[c]</text></g>
<g id="c116"><circle class="d" cx="413" cy="394"/><text class="s e" x="414" y="386">nadh[c]</text></g>
<g id="c117"><circle class="d" cx="422" cy="381"/><text class="sr" x="417" y="374">h[c]</text></g>
<g id="c118"><circle class="d" cx="462" cy="396"/><text class="s" x="450" y="386">nad[c]</text></g>
<g id="c119"><circle class="d" cx="410" cy="438"/><text class="s" x="390" y="451">fadh[m]</text></g>
<g id="c120"><circle class="d" cx="455" cy="440"/><text class="s" x="450" y="451">fad[m]</text></g>
<g id="c121"><circle class="d" cx="457" cy="553"/><text class="s" x="425" y="546">nadp[c]</text></g>
<g id="c122"><circle class="d" cx="503" cy="554"/><text class="sr" x="502" y="546">h[c]</text></g>
<g id="c123"><circle class="d" cx="457" cy="584"/><text class="sr" x="447" y="596">h2o[c]</text></g>
<g id="c124"><circle class="d" cx="497" cy="586"/><text class="s" x="478" y="596">nadph[c]</text></g>
<g id="c125"><circle class="d" cx="550" cy="550"/><text class="sr" x="530" y="544">h2o[c]</text></g>
<g id="c126"><circle class="d" cx="601" cy="549"/><text class="sr" x="596" y="543">h[c]</text></g>
<g id="c127"><circle class="d" cx="544" cy="581"/><text class="s" x="523" y="593">atp[c]</text></g>
<g id="c128"><circle class="d" cx="555" cy="586"/><text class="sr" x="548" y="597">coa[c]</text></g>
<g id="c129"><circle class="d" cx="590" cy="585"/><text class="s" x="578" y="596">amp[c]</text></g>
<g id="c130"><circle class="d" cx="606" cy="585"/><text class="sr" x="610" y="596">pi[c]</text></g>
<g id="c131"><circle class="d" cx="391" cy="578"/><text class="s e" x="388" y="574">co2[c]</text></g>
<g id="c132"><circle class="d" cx="365" cy="615"/><text class="sr e" x="360" y="618">h[c]</text></g>
<g id="c133"><circle class="d" cx="458" cy="628"/><text class="s" x="465" y="631">atp[c]</text></g>
<g id="c134"><circle class="d" cx="408" cy="645"/><text class="s" x="383" y="655">adp[c]</text></g>
<g id="c135"><circle class="d" cx="421" cy="644"/><text class="s" x="427" y="647">co2[c]</text></g>
<g id="c136"><circle class="d" cx="498" cy="655"/><text class="s" x="466" y="655">atp[c]</text></g>
<g id="c137"><circle class="d" cx="533" cy="647"/><text class="sr" x="534" y="638">h[c]</text></g>
<g id="c138"><circle class="d" cx="545" cy="647"/><text class="sr" x="552" y="646">pi[c]</text></g>
<g id="c139"><circle class="d" cx="543" cy="676"/><text class="s" x="548" y="675">adp[c]</text></g>
<g id="c140"><circle class="d" cx="610" cy="679"/><text class="s" x="617" y="680">nadh[c]</text></g>
<g id="c141"><circle class="d" cx="606" cy="688"/><text class="sr" x="614" y="693">h[c]</text></g>
<g id="c142"><circle class="d" cx="597" cy="703"/><text class="s" x="604" y="708">nad[c]</text></g>
<g id="c143"><circle class="d" cx="451" cy="715"/><text class="s e" x="446" y="719">nadph[c]</text></g>
<g id="c144"><circle class="d" cx="464" cy="717"/><text class="s" x="450" y="729">co2[c]</text></g>
<g id="c145"><circle class="d" cx="497" cy="719"/><text class="s" x="489" y="729">nadp[c]</text></g>
<g id="c146"><circle class="d" cx="531" cy="763"/><text class="sr" x="523" y="773">h2o[c]</text></g>
<g id="c147"><circle class="d" cx="438" cy="771"/><text class="s" x="406" y="778">nad[c]</text></g>
<g id="c148"><circle class="d" cx="479" cy="771"/><text class="s" x="461" y="782">nadh[c]</text></g>
<g id="c149"><circle class="d" cx="495" cy="771"/><text class="sr" x="499" y="779">h[c]</text></g>
<g id="c150"><circle class="d" cx="598" cy="752"/><text class="sr" x="603" y="755">coa[c]</text></g>
<g id="c151"><circle class="d" cx="570" cy="771"/><text class="sr" x="556" y="766">h[c]</text></g>
<g id="c152"><circle class="d" cx="618" cy="778"/><text class="s" x="623" y="775">accoa[c]</text></g>
<g id="c153"><circle class="d" cx="601" cy="798"/><text class="sr" x="590" y="812">h2o[c]</text></g>
<g id="c154"><circle class="d" cx="279" cy="816"/><text class="sr e" x="274" y="815">coa[m]</text></g>
<g id="c155"><circle class="d" cx="317" cy="814"/><text class="s" x="323" y="817">nad[m]</text></g>
<g id="c156"><circle class="d" cx="281" cy="846"/><text class="sr" x="259" y="840">co2[m]</text></g>
<g id="c157"><circle class="d" cx="314" cy="846"/><text class="s" x="320" y="849">nadh[m]</text></g>
<g id="c158"><circle class="d" cx="228" cy="831"/><text class="s" x="232" y="829">nadph[m]</text></g>
<g id="c159"><circle class="d" cx="220" cy="838"/><text class="s" x="226" y="844">co2[m]</text></g>
<g id="c160"><circle class="d" cx="196" cy="866"/><text class="s" x="201" y="867">nadp[m]</text></g>
<g id="c161"><circle class="d" cx="323" cy="880"/><text class="sr e" x="318" y="881">h2o[m]</text></g>
<g id="c162"><circle class="d" cx="377" cy="865"/><text class="sr" x="383" y="862">coa[m]</text></g>
<g id="c163"><circle class="d" cx="353" cy="887"/><text class="sr" x="358" y="893">h[m]</text></g>
<g id="c164"><circle class="d" cx="225" cy="917"/><text class="sr" x="235" y="916">h[m]</text></g>
<g id="c165"><circle class="d" cx="219" cy="928"/><text class="s" x="226" y="931">nadh[m]</text></g>
<g id="c166"><circle class="d" cx="205" cy="947"/><text class="s" x="209" y="952">nad[m]</text></g>
<g id="c167"><circle class="d" cx="205" cy="999"/><text class="s" x="210" y="1002">h2o[m]</text></g>
<g id="c168"><circle class="d" cx="219" cy="1038"/><text class="s" x="217" y="1032">fadh[m]</text></g>
<g id="c169"><circle class="d" cx="238" cy="1053"/><text class="s" x="236" y="1050">fad[m]</text></g>
<g id="c170"><circle class="d" cx="269" cy="1068"/><text class="s" x="263" y="1061">atp[m]</text></g>
<g id="c171"><circle class="d" cx="306" cy="1074"/><text class="sr" x="297" y="1068">pi[m]</text></g>
<g id="c172"><circle class="d" cx="262" cy="1096"/><text class="sr e" x="259" y="1105">coa[m]</text></g>
<g id="c173"><circle class="d" cx="303" cy="1104"/><text class="s" x="267" y="1104">adp[m]</text></g>
<g id="c174"><circle class="d" cx="378" cy="1055"/><text class="sr e" x="375" y="1055">coa[m]</text></g>
<g id="c175"><circle class="d" cx="346" cy="1069"/><text class="s" x="336" y="1065">nadh[m]</text></g>
<g id="c176"><circle class="d" cx="394" cy="1076"/><text class="s" x="402" y="1077">nad[m]</text></g>
<g id="c177"><circle class="d" cx="361" cy="1093"/><text class="sr" x="357" y="1104">co2[m]</text></g>
<g id="c178"><circle class="d" cx="412" cy="993"/><text class="s e" x="405" y="995">nadp[m]</text></g>
<g id="c179"><circle class="d" cx="438" cy="1005"/><text class="s" x="443" y="1006">nad[m]</text></g>
<g id="c180"><circle class="d" cx="395" cy="1020"/><text class="s e" x="389" y="1022">co2[m]</text></g>
<g id="c181"><circle class="d" cx="394" cy="1030"/><text class="s e" x="389" y="1033">nadph[m]</text></g>
<g id="c182"><circle class="d" cx="432" cy="1035"/><text class="s" x="438" y="1037">co2[m]</text></g>
<g id="c183"><circle class="d" cx="427" cy="1042"/><text class="s" x="431" y="1048">nadh[m]</text></g>
<g id="c184"><circle class="d" cx="59" cy="905"/><text class="sr e" x="57" y="898">h[c]</text></g>
<g id="c185"><circle class="d" cx="111" cy="908"/><text class="sr" x="102" y="900">h[m]</text></g>
<g id="c186"><circle class="d" cx="127" cy="908"/><text class="sr" x="132" y="900">pi[m]</text></g>
<g id="c187"><circle class="d" cx="41" cy="923"/><text class="s e" x="44" y="916">atp[m]</text></g>
<g id="c188"><circle class="d" cx="136" cy="923"/><text class="s" x="142" y="926">adp[m]</text></g>
<g id="c189"><circle class="d" cx="42" cy="943"/><text class="s" x="13" y="954">nad[m]</text></g>
<g id="c190"><circle class="d" cx="60" cy="942"/><text class="sr" x="49" y="954">h2o[m]</text></g>
<g id="c191"><circle class="d" cx="108" cy="942"/><text class="s" x="89" y="954">nadh[m]</text></g>
<g id="c192"><circle class="d" cx="124" cy="944"/><text class="sr" x="130" y="946">o2[m]</text></g>
<g id="c193"><circle class="d" cx="57" cy="984"/><text class="sr e" x="50" y="983">h[c]</text></g>
<g id="c194"><circle class="d" cx="109" cy="983"/><text class="sr" x="113" y="980">h[m]</text></g>
<g id="c195"><circle class="d" cx="120" cy="991"/><text class="sr" x="127" y="991">pi[m]</text></g>
<g id="c196"><circle class="d" cx="41" cy="1001"/><text class="s e" x="41" y="996">atp[m]</text></g>
<g id="c197"><circle class="d" cx="138" cy="1001"/><text class="s" x="143" y="1004">adp[m]</text></g>
<g id="c198"><circle class="d" cx="45" cy="1019"/><text class="s" x="14" y="1030">fad[m]</text></g>
<g id="c199"><circle class="d" cx="63" cy="1019"/><text class="sr" x="49" y="1030">h2o[m]</text></g>
<g id="c200"><circle class="d" cx="104" cy="1019"/><text class="s" x="89" y="1033">fadh[m]</text></g>
<g id="c201"><circle class="d" cx="125" cy="1021"/><text class="sr" x="130" y="1022">o2[m]</text></g>
<g id="c202"><circle class="d" cx="189" cy="1154"/><text class="s" x="157" y="1147">nadh[c]</text></g>
<g id="c203"><circle class="d" cx="208" cy="1138"/><text class="s" x="217" y="1137">nad[m]</text></g>
<g id="c204"><circle class="d" cx="189" cy="1202"/><text class="s" x="157" y="1216">nadh[m]</text></g>
<g id="c205"><circle class="d" cx="208" cy="1217"/><text class="s" x="217" y="1218">nad[c]</text></g>
<g id="c206"><circle class="d" cx="265" cy="1139"/><text class="sr" x="271" y="1139">h2o[m]</text></g>
<g id="c207"><circle class="d" cx="265" cy="1218"/><text class="sr" x="271" y="1218">h2o[c]</text></g>
<g id="c208"><circle class="d" cx="320" cy="1139"/><text class="sr" x="328" y="1139">co2[m]</text></g>
<g id="c209"><circle class="d" cx="320" cy="1218"/><text class="sr" x="329" y="1220">co2[c]</text></g>
<g id="c210"><circle class="d" cx="370" cy="1139"/><text class="sr" x="377" y="1141">o2[m]</text></g>
<g id="c211"><circle class="d" cx="427" cy="1138"/><text class="sr" x="435" y="1141">atp[m]</text></g>
<g id="c212"><circle class="d" cx="409" cy="1157"/><text class="sr" x="376" y="1160">adp[c]</text></g>
<g id="c213"><circle class="d" cx="444" cy="1156"/><text class="sr" x="451" y="1156">h[c]</text></g>
<g id="c214"><circle class="d" cx="409" cy="1203"/><text class="sr" x="374" y="1204">adp[m]</text></g>
<g id="c215"><circle class="d" cx="443" cy="1203"/><text class="sr" x="452" y="1205">h[m]</text></g>
<g id="c216"><circle class="d" cx="371" cy="1218"/><text class="sr" x="380" y="1220">o2[c]</text></g>
<g id="c217"><circle class="d" cx="425" cy="1219"/><text class="sr" x="433" y="1220">atp[c]</text></g>
<g id="c218"><circle class="d" cx="512" cy="1008"/><text class="sr" x="493" y="1002">coa[c]</text></g>
<g id="c219"><circle class="d" cx="564" cy="1007"/><text class="sr" x="566" y="1002">coa[m]</text></g>
<g id="c220"><circle class="d" cx="515" cy="1041"/><text class="sr e" x="511" y="1043">h[m]</text></g>
<g id="c221"><circle class="d" cx="568" cy="1040"/><text class="sr" x="573" y="1043">h[c]</text></g>
<g id="c222"><circle class="d" cx="511" cy="1083"/><text class="sr e" x="507" y="1086">pi[c]</text></g>
<g id="c223"><circle class="d" cx="567" cy="1083"/><text class="sr" x="573" y="1086">pi[m]</text></g>
<g id="c224"><circle class="d" cx="515" cy="1123"/><text class="sr e" x="511" y="1125">pi[c]</text></g>
<g id="c225"><circle class="d" cx="567" cy="1121"/><text class="sr" x="574" y="1124">pi[m]</text></g>
<g id="c226"><circle class="d" cx="522" cy="1183"/><text class="sr e" x="518" y="1187">h[m]</text></g>
<g id="c227"><circle class="d" cx="566" cy="1183"/><text class="sr" x="572" y="1187">h[c]</text></g>
<g id="c228"><circle class="d" cx="758" cy="843"/><text class="s e" x="753" y="842">nad[m]</text></g>
<g id="c229"><circle class="d" cx="726" cy="885"/><text class="s e" x="718" y="887">atp[c]</text></g>
<g id="c230"><circle class="d" cx="713" cy="925"/><text class="sr e" x="705" y="926">h2o[c]</text></g>
<g id="c231"><circle class="d" cx="702" cy="1021"/><text class="s e" x="695" y="1023">nad[c]</text></g>
<g id="c232"><circle class="d" cx="703" cy="1057"/><text class="s e" x="695" y="1060">nadph[c]</text></g>
<g id="c233"><circle class="d" cx="736" cy="1132"/><text class="s e" x="730" y="1138">nadph[m]</text></g>
<g id="c234"><circle class="d" cx="898" cy="930"/><text class="s" x="906" y="928">nadh[m]</text></g>
<g id="c235"><circle class="d" cx="906" cy="946"/><text class="s" x="916" y="947">nadh[c]</text></g>
<g id="c236"><circle class="d" cx="911" cy="968"/><text class="sr" x="918" y="966">coa[m]</text></g>
<g id="c237"><circle class="d" cx="912" cy="985"/><text class="s" x="918" y="982">adp[c]</text></g>
<g id="c238"><circle class="d" cx="912" cy="1022"/><text class="sr" x="917" y="1031">pi[c]</text></g>
<g id="c239"><circle class="d" cx="908" cy="1040"/><text class="sr" x="918" y="1049">h[c]</text></g>
<g id="c240"><circle class="d" cx="903" cy="1058"/><text class="s" x="908" y="1068">nadp[c]</text></g>
<g id="c241"><circle class="d" cx="898" cy="1077"/><text class="s" x="903" y="1083">nadp[m]</text></g>
<g id="c242"><circle class="d" cx="894" cy="1095"/><text class="sr" x="902" y="1102">coa[c]</text></g>
<g id="c243"><circle class="d" cx="834" cy="1138"/><text class="s" x="815" y="1150">atp[c]</text></g>
<g id="c244"><circle class="d" cx="931" cy="1139"/><text class="s" x="928" y="1151">adp[c]</text></g>
<g id="c245"><circle class="d" cx="854" cy="1157"/><text class="sr" x="838" y="1170">h2o[c]</text></g>
<g id="c246"><circle class="d" cx="895" cy="1157"/><text class="sr" x="893" y="1170">pi[c]</text></g>
<g id="c247"><circle class="d" cx="913" cy="1155"/><text class="sr" x="917" y="1165">h[c]</text></g>
<g id="c248"><circle class="d" cx="842" cy="1194"/><text class="s e" x="836" y="1197">atp[c]</text></g>
<g id="c249"><circle class="d" cx="915" cy="1204"/><text class="s" x="921" y="1206">adp[c]</text></g>
<g id="c250"><circle class="d" cx="843" cy="1220"/><text class="s e" x="838" y="1223">amp[c]</text></g>
</g>
</svg>
